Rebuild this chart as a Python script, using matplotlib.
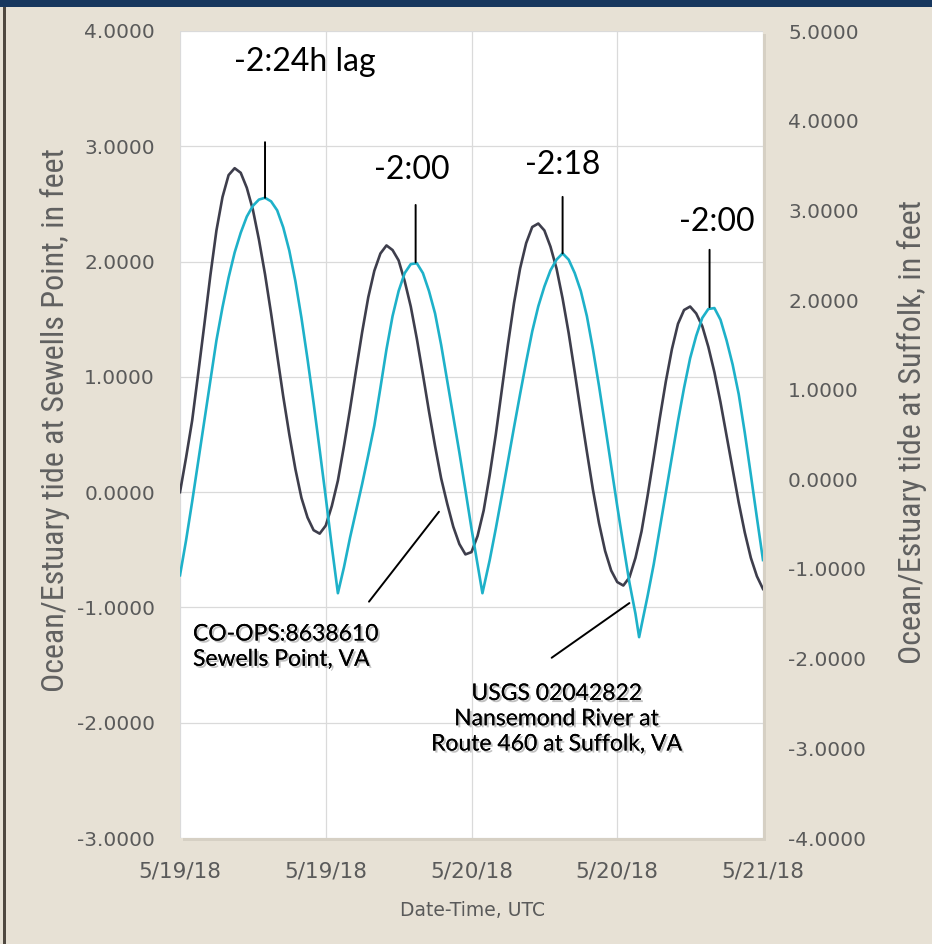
import matplotlib
matplotlib.use("Agg")
import matplotlib.pyplot as plt
import matplotlib.patheffects as pe
from matplotlib import font_manager
from matplotlib.patches import Rectangle
from matplotlib.ticker import FuncFormatter, FixedLocator
import matplotlib.dates as mdates
from datetime import datetime, timedelta

# ---------------- data ----------------
start = datetime(2018, 5, 19, 0, 0)

sewells_hours = [0, 0.5, 1, 1.5, 2, 2.5, 3, 3.5, 4, 4.5, 5, 5.5, 6, 6.5, 7, 7.5, 8, 8.5, 9, 9.5,
                 10, 10.5, 11, 11.5, 12, 12.5, 13, 13.5, 14, 14.5, 15, 15.5, 16, 16.5, 17, 17.5,
                 18, 18.5, 19, 19.5, 20, 20.5, 21, 21.5, 22, 22.5, 23, 23.5, 24, 24.5, 25, 25.5,
                 26, 26.5, 27, 27.5, 28, 28.5, 29, 29.5, 30, 30.5, 31, 31.5, 32, 32.5, 33, 33.5,
                 34, 34.5, 35, 35.5, 36, 36.5, 37, 37.5, 38, 38.5, 39, 39.5, 40, 40.5, 41, 41.5,
                 42, 42.5, 43, 43.5, 44, 44.5, 45, 45.5, 46, 46.5, 47, 47.5, 48]
sewells_ft = [0.00, 0.30, 0.62, 1.03, 1.45, 1.88, 2.27, 2.56, 2.75, 2.81, 2.77, 2.64, 2.45, 2.19,
              1.89, 1.55, 1.19, 0.83, 0.50, 0.20, -0.05, -0.22, -0.33, -0.36, -0.29, -0.12, 0.10,
              0.40, 0.72, 1.06, 1.39, 1.69, 1.92, 2.07, 2.14, 2.10, 2.01, 1.83, 1.61, 1.33, 1.02,
              0.70, 0.40, 0.12, -0.10, -0.30, -0.45, -0.54, -0.52, -0.38, -0.16, 0.15, 0.50, 0.89,
              1.28, 1.64, 1.94, 2.16, 2.30, 2.33, 2.27, 2.13, 1.94, 1.68, 1.38, 1.04, 0.69, 0.35,
              0.02, -0.27, -0.51, -0.68, -0.78, -0.81, -0.74, -0.57, -0.34, -0.03, 0.30, 0.64,
              0.96, 1.24, 1.46, 1.58, 1.61, 1.55, 1.44, 1.26, 1.04, 0.78, 0.49, 0.20, -0.09,
              -0.35, -0.57, -0.73, -0.84]

suffolk_hours = [0, 0.5, 1, 1.5, 2, 2.5, 3, 3.5, 4, 4.5, 5, 5.5, 6, 6.5, 7, 7.5, 8, 8.5, 9, 9.5,
                 10, 10.5, 11, 11.5, 12, 12.5, 13, 13.5, 14, 14.5, 15, 15.5, 16, 16.5, 17, 17.5,
                 18, 18.5, 19, 19.5, 20, 20.5, 21, 21.5, 22, 22.5, 23, 23.5, 24, 24.5, 24.9, 25.5,
                 26, 26.5, 27, 27.5, 28, 28.5, 29, 29.5, 30, 30.5, 31, 31.5, 32, 32.5, 33, 33.5,
                 34, 34.5, 35, 35.5, 36, 36.5, 37, 37.5, 37.8, 38.5, 39, 39.5, 40, 40.5, 41, 41.5,
                 42, 42.5, 43, 43.5, 44, 44.5, 45, 45.5, 46, 46.5, 47, 47.5, 48]
suffolk_ft = [-1.07, -0.68, -0.25, 0.20, 0.65, 1.10, 1.55, 1.92, 2.25, 2.53, 2.75, 2.93, 3.05,
              3.12, 3.14, 3.10, 3.00, 2.81, 2.55, 2.21, 1.80, 1.34, 0.85, 0.33, -0.20, -0.75,
              -1.27, -0.98, -0.65, -0.35, -0.05, 0.27, 0.60, 1.02, 1.45, 1.82, 2.10, 2.30, 2.40,
              2.41, 2.30, 2.10, 1.85, 1.50, 1.10, 0.70, 0.30, -0.12, -0.55, -0.95, -1.27, -0.90,
              -0.55, -0.18, 0.20, 0.58, 0.95, 1.31, 1.65, 1.93, 2.15, 2.33, 2.45, 2.52, 2.45,
              2.30, 2.10, 1.82, 1.45, 1.04, 0.60, 0.15, -0.30, -0.73, -1.15, -1.50, -1.76, -1.30,
              -0.95, -0.55, -0.15, 0.25, 0.65, 1.02, 1.35, 1.60, 1.80, 1.90, 1.91, 1.78, 1.55,
              1.28, 0.95, 0.52, 0.05, -0.43, -0.90]

x_tick_hours = [0, 12, 24, 36, 48]
left_ticks = [-3, -2, -1, 0, 1, 2, 3, 4]
right_ticks = [-4, -3, -2, -1, 0, 1, 2, 3, 4, 5]

left_title = "Ocean/Estuary tide at Sewells Point, in feet"
right_title = "Ocean/Estuary tide at Suffolk, in feet"
x_title = "Date-Time, UTC"

lag_labels = ["-2:24h lag", "-2:00", "-2:18", "-2:00"]
lag_text_pos = [(10.3, 4.65), (19.1, 3.45), (31.5, 3.51), (44.2, 2.87)]
lag_line_pos = [(7.0, 3.76, 3.14), (19.4, 3.06, 2.42), (31.5, 3.15, 2.52), (43.6, 2.56, 1.92)]

sewells_label = "CO-OPS:8638610\nSewells Point, VA"
suffolk_label = "USGS 02042822\nNansemond River at\nRoute 460 at Suffolk, VA"


def to_dt(hours):
    return [start + timedelta(hours=h) for h in hours]


def pick_narrow_font():
    entries = font_manager.fontManager.ttflist
    names = {f.name for f in entries}
    for cand in ["Liberation Sans Narrow", "Roboto Condensed", "Open Sans Condensed",
                 "Noto Sans Condensed", "DejaVu Sans Condensed", "Arial Narrow"]:
        if cand in names:
            return dict(family=[cand, "DejaVu Sans"]), 23
    for f in entries:
        if f.name == "DejaVu Sans" and "condensed" in str(f.stretch).lower():
            return dict(family=["DejaVu Sans"], fontstretch="condensed"), 22
    return dict(family=["Lato", "DejaVu Sans"]), 20


# ---------------- figure ----------------
W, H = 932, 944
BG = "#e7e1d5"
fig = plt.figure(figsize=(W / 100, H / 100), dpi=100, facecolor=BG)

fig.patches.append(Rectangle((0, 1 - 7 / H), 1, 7 / H, transform=fig.transFigure,
                             facecolor="#17375e", edgecolor="none", zorder=-1))
fig.patches.append(Rectangle((3 / W, 0), 3 / W, 1 - 7 / H, transform=fig.transFigure,
                             facecolor="#4f4840", edgecolor="none", zorder=-1))

L, R, T, B = 180, 763, 31, 838
# soft shadow under the plot area
fig.patches.append(Rectangle(((L + 3) / W, 1 - (B + 3) / H), (R - L) / W, (B - T) / H,
                             transform=fig.transFigure, facecolor="#d6d0c4",
                             edgecolor="none", zorder=-1))
ax = fig.add_axes([L / W, 1 - B / H, (R - L) / W, (B - T) / H])
ax.set_facecolor("white")
for s in ax.spines.values():
    s.set_visible(False)

ax.plot(to_dt(sewells_hours), sewells_ft, color="#3e3e4c", lw=1.9, zorder=3)
ax.set_ylim(-3, 4)
ax.set_xlim(start, start + timedelta(hours=48))
ax.yaxis.set_major_locator(FixedLocator(left_ticks))
ax.yaxis.set_major_formatter(FuncFormatter(lambda v, p: f"{v:.4f}"))
ax.xaxis.set_major_locator(FixedLocator(
    [mdates.date2num(start + timedelta(hours=h)) for h in x_tick_hours]))
ax.xaxis.set_major_formatter(FuncFormatter(
    lambda v, p: (lambda d: f"{d.month}/{d.day}/{d.strftime('%y')}")(mdates.num2date(v))))
ax.grid(True, color="#dadada", lw=0.9)
ax.set_axisbelow(True)
ax.tick_params(axis="both", length=0, labelsize=14.5, labelcolor="#5a5a5a")
ax.tick_params(axis="y", pad=18)
ax.tick_params(axis="x", pad=17, labelsize=15.5)

ax2 = ax.twinx()
for s in ax2.spines.values():
    s.set_visible(False)
ax2.plot(to_dt(suffolk_hours), suffolk_ft, color="#1eb1c9", lw=1.9, zorder=4)
ax2.set_ylim(-4, 5)
ax2.yaxis.set_major_locator(FixedLocator(right_ticks))
ax2.yaxis.set_major_formatter(FuncFormatter(lambda v, p: f"{v:.4f}"))
ax2.tick_params(axis="y", length=0, labelsize=14.5, labelcolor="#5a5a5a", pad=18)

title_kw, title_size = pick_narrow_font()
fig.text(55 / W, 1 - 420 / H, left_title, rotation=90, ha="center", va="center",
         fontsize=title_size, color="#606060", **title_kw)
fig.text(912 / W, 1 - 432 / H, right_title, rotation=90, ha="center", va="center",
         fontsize=title_size, color="#606060", **title_kw)
fig.text(472 / W, 1 - 910 / H, x_title, ha="center", va="center",
         fontsize=13.5, color="#5a5a5a")

ann_font = ["Lato", "DejaVu Sans"]
for lab, (th, tv), (lh, ltop, lbot) in zip(lag_labels, lag_text_pos, lag_line_pos):
    ax2.text(start + timedelta(hours=th), tv, lab, ha="center", va="center",
             fontsize=23, color="black", family=ann_font, zorder=6)
    ax2.annotate("", xy=(start + timedelta(hours=lh), lbot),
                 xytext=(start + timedelta(hours=lh), ltop),
                 arrowprops=dict(arrowstyle="-", color="black", lw=1.4, shrinkA=0, shrinkB=0),
                 zorder=6)

shadow = [pe.withSimplePatchShadow(offset=(1.5, -1.5), shadow_rgbFace="#777777", alpha=0.45),
          pe.Normal()]
ax.text(start + timedelta(hours=1.07), -1.34, sewells_label, ha="left", va="center",
        fontsize=16.5, color="black", family=ann_font, linespacing=1.25,
        path_effects=shadow, zorder=6)
ax.annotate("", xy=(start + timedelta(hours=21.32), -0.17),
            xytext=(start + timedelta(hours=15.56), -0.95),
            arrowprops=dict(arrowstyle="-", color="black", lw=1.4, shrinkA=0, shrinkB=0),
            zorder=6)

ax2.text(start + timedelta(hours=31.0), -2.67, suffolk_label, ha="center", va="center",
         fontsize=16.5, color="black", family=ann_font, linespacing=1.25,
         path_effects=shadow, zorder=6)
ax2.annotate("", xy=(start + timedelta(hours=37.0), -1.38),
             xytext=(start + timedelta(hours=30.6), -1.99),
             arrowprops=dict(arrowstyle="-", color="black", lw=1.4, shrinkA=0, shrinkB=0),
             zorder=6)

fig.savefig("out.png", dpi=100, facecolor=BG)
